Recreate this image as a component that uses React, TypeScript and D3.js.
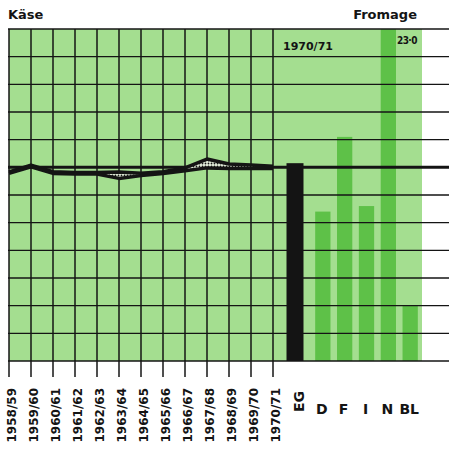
import React from "react";
import * as d3 from "d3";

const years = ["1958/59","1959/60","1960/61","1961/62","1962/63","1963/64","1964/65","1965/66","1966/67","1967/68","1968/69","1969/70","1970/71"];
const upperSeries = [6.83, 7.08, 6.84, 6.81, 6.81, 6.83, 6.79, 6.84, 6.98, 7.3, 7.12, 7.08, 7.04];
const lowerSeries = [6.78, 7.02, 6.78, 6.76, 6.76, 6.6, 6.7, 6.78, 6.88, 6.98, 6.96, 6.96, 6.96];
const egLabel = "EG";
const egValue = 7.15;
const countries = ["D", "F", "I", "N", "BL"];
const countryValues = [5.4, 8.1, 5.6, 23.0, 2.0];
const yTicks = d3.range(0, 13);
const titleLeft = "Käse";
const titleRight = "Fromage";
const yearLabel = "1970/71";
const overflowLabel = "23·0";

const W = 449, H = 449;
const LIGHT = "#a4de90";
const BAR = "#5ec148";
const INK = "#141414";
const FONT = "'DejaVu Sans', sans-serif";

export default function App() {
  const y = d3.scaleLinear().domain([0, 12]).range([361, 29]);
  const x = d3.scalePoint<string>().domain(years).range([9, 273]);
  const step = x.step();
  const egX = (x(years[years.length - 1]) as number) + step;
  const xc = d3.scaleBand<string>().domain(countries).range([313, 420]).paddingInner(0.3).paddingOuter(0.1);
  const yMax = y.domain()[1];

  const area = d3.area<number>()
    .x((_, i) => x(years[i]) as number)
    .y0((_, i) => y(lowerSeries[i]))
    .y1((_, i) => y(upperSeries[i]));
  const lineU = d3.line<number>().x((_, i) => x(years[i]) as number).y(d => y(d));

  const gridLeft = 8, gridRight = W;
  const top = y(yMax), bottom = y(0);

  return (
    <svg width={W} height={H} style={{ position: "absolute", left: 0, top: 0, background: "#fff" }} fontFamily={FONT}>
      <defs>
        <pattern id="dots" width="3" height="3" patternUnits="userSpaceOnUse">
          <rect width="3" height="3" fill="#e8f2df" />
          <circle cx="1.5" cy="1.5" r="0.9" fill={INK} />
        </pattern>
      </defs>
      <rect x={9} y={top} width={422 - 9} height={bottom - top} fill={LIGHT} />
      <rect x={egX - 8.5} y={y(egValue)} width={17} height={bottom - y(egValue)} fill={INK} />
      {countries.map((c, i) => {
        const v = Math.min(countryValues[i], yMax);
        return <rect key={c} x={xc(c)} y={y(v)} width={xc.bandwidth()} height={bottom - y(v)} fill={BAR} />;
      })}
      {yTicks.map(t => (
        <line key={t} x1={gridLeft} x2={gridRight} y1={y(t)} y2={y(t)} stroke={INK} strokeWidth={t === 7 ? 3 : 1.4} />
      ))}
      {years.map(yr => (
        <line key={yr} x1={x(yr)} x2={x(yr)} y1={top} y2={377} stroke={INK} strokeWidth={1.5} />
      ))}
      <path d={area(upperSeries) || ""} fill="url(#dots)" />
      <path d={lineU(upperSeries) || ""} fill="none" stroke={INK} strokeWidth={3.5} strokeLinejoin="round" />
      <path d={lineU(lowerSeries) || ""} fill="none" stroke={INK} strokeWidth={3.5} strokeLinejoin="round" />
      <text x={8} y={19} fontSize={13} fontWeight="bold" fill={INK}>{titleLeft}</text>
      <text x={417} y={19} fontSize={13} fontWeight="bold" fill={INK} textAnchor="end">{titleRight}</text>
      <text x={283} y={50} fontSize={11} fontWeight="bold" fill={INK}>{yearLabel}</text>
      <text x={397} y={44} fontSize={10} fontWeight="bold" fill={INK} fontFamily="'DejaVu Sans Condensed', 'DejaVu Sans', sans-serif" letterSpacing={-0.6}>{overflowLabel}</text>
      {years.map(yr => (
        <text key={yr} transform={`translate(${(x(yr) as number) + 7},388) rotate(-90)`} textAnchor="end" fontSize={12} fontWeight="bold" fill={INK}>{yr}</text>
      ))}
      <text transform={`translate(${egX + 9},391) rotate(-90)`} textAnchor="end" fontSize={14} fontWeight="bold" fill={INK}>{egLabel}</text>
      {countries.map(c => (
        <text key={c} x={(xc(c) as number) + xc.bandwidth() / 2 - 1} y={414} textAnchor="middle" fontSize={14} fontWeight="bold" fill={INK}>{c}</text>
      ))}
    </svg>
  );
}
